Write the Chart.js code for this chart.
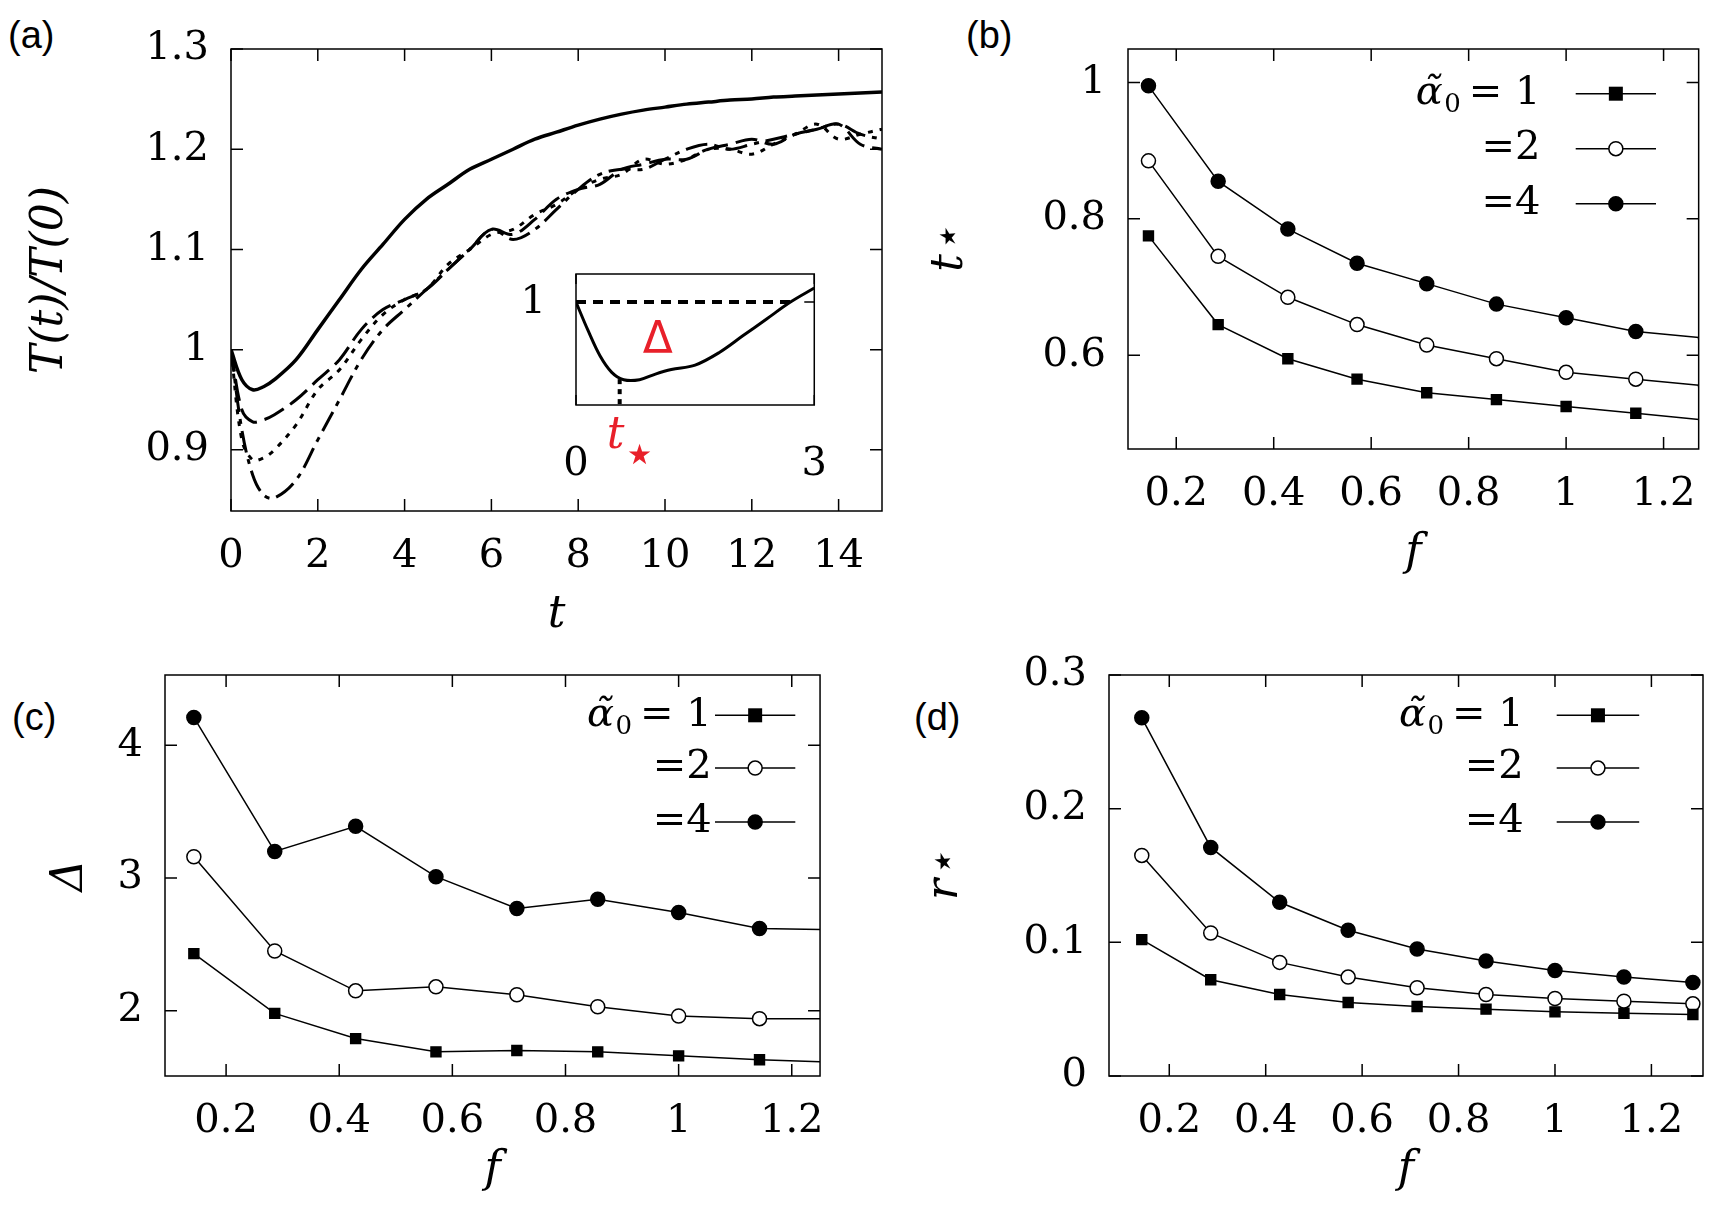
<!DOCTYPE html>
<html><head><meta charset="utf-8">
<script src="https://cdn.jsdelivr.net/npm/chart.js@4"></script>
<style>
body{margin:0;background:#fff;width:1725px;height:1217px;position:relative;overflow:hidden}
canvas{position:absolute}
.lab{position:absolute;font:38px "Liberation Sans",Arial,sans-serif;color:#000}
</style></head><body>
<div class="lab" style="left:8px;top:14px">(a)</div>
<div class="lab" style="left:966px;top:14px">(b)</div>
<div class="lab" style="left:12px;top:696px">(c)</div>
<div class="lab" style="left:914px;top:696px">(d)</div>
<script>
// panel (a) data
var tA = [0,0.25,0.5,0.75,1,1.5,2,2.5,3,3.5,4,4.5,5,5.5,6,6.5,7,7.5,8,8.5,9,9.5,10,10.5,11,11.5,12,12.5,13,13.5,14,14.5,15];
var aSolid = [1.0,0.97,0.96,0.963,0.97,0.99,1.02,1.05,1.08,1.105,1.13,1.15,1.165,1.18,1.19,1.2,1.21,1.217,1.224,1.23,1.235,1.239,1.242,1.245,1.247,1.249,1.25,1.252,1.253,1.254,1.255,1.256,1.257];
var aDash = [1.0,0.94,0.928,0.93,0.935,0.95,0.97,0.99,1.02,1.04,1.05,1.06,1.08,1.10,1.12,1.115,1.13,1.15,1.16,1.165,1.18,1.185,1.19,1.19,1.2,1.205,1.21,1.205,1.215,1.22,1.225,1.205,1.20];
var aDot = [1.0,0.91,0.89,0.892,0.9,0.925,0.96,0.98,1.01,1.035,1.05,1.06,1.085,1.10,1.115,1.12,1.135,1.145,1.16,1.17,1.175,1.19,1.185,1.19,1.2,1.2,1.195,1.205,1.215,1.225,1.21,1.215,1.22];
var aDashDot = [1.0,0.92,0.875,0.855,0.852,0.87,0.91,0.95,0.99,1.02,1.04,1.06,1.08,1.10,1.12,1.11,1.12,1.14,1.16,1.175,1.18,1.18,1.19,1.2,1.205,1.2,1.205,1.21,1.215,1.22,1.225,1.215,1.21];
var tInset = [0,0.15,0.3,0.45,0.6,0.8,1,1.2,1.5,1.8,2.1,2.4,2.7,3];
var inset = [1.0,0.95,0.905,0.875,0.862,0.862,0.872,0.88,0.888,0.91,0.94,0.97,1.0,1.025];
// panels (b)-(d)
var f = [0.143,0.286,0.429,0.571,0.714,0.857,1.0,1.143,1.286];
var tStar1 = [0.775,0.645,0.595,0.565,0.545,0.535,0.525,0.515,0.505];
var tStar2 = [0.885,0.745,0.685,0.645,0.615,0.595,0.575,0.565,0.555];
var tStar4 = [0.995,0.855,0.785,0.735,0.705,0.675,0.655,0.635,0.625];
var delta1 = [2.43,1.98,1.79,1.69,1.70,1.69,1.66,1.63,1.61];
var delta2 = [3.16,2.45,2.15,2.18,2.12,2.03,1.96,1.94,1.94];
var delta4 = [4.21,3.20,3.39,3.01,2.77,2.84,2.74,2.62,2.61];
var rStar1 = [0.102,0.072,0.061,0.055,0.052,0.050,0.048,0.047,0.046];
var rStar2 = [0.165,0.107,0.085,0.074,0.066,0.061,0.058,0.056,0.054];
var rStar4 = [0.268,0.171,0.130,0.109,0.095,0.086,0.079,0.074,0.070];
var fTicks = [0.2,0.4,0.6,0.8,1,1.2];
var fLabels = ['0.2','0.4','0.6','0.8','1','1.2'];

var S = 1.1;
var SERIF = '"DejaVu Serif","Liberation Serif",serif';

function xy(xs, ys) { return xs.map(function (x, i) { return {x: x, y: ys[i]}; }); }

var frame = {
  id: 'frame',
  afterDraw: function (c) {
    var fr = c.canvas.$frame || {};
    var a = c.chartArea, ctx = c.ctx, tl = fr.tick || 12;
    ctx.save();
    ctx.strokeStyle = '#000'; ctx.lineWidth = 1.5;
    ctx.strokeRect(a.left, a.top, a.right - a.left, a.bottom - a.top);
    var xs = c.scales.x, ys = c.scales.y;
    xs.ticks.forEach(function (t) {
      var p = xs.getPixelForValue(t.value);
      ctx.beginPath(); ctx.moveTo(p, a.bottom); ctx.lineTo(p, a.bottom - tl);
      ctx.moveTo(p, a.top); ctx.lineTo(p, a.top + tl); ctx.stroke();
    });
    ys.ticks.forEach(function (t) {
      var p = ys.getPixelForValue(t.value);
      ctx.beginPath(); ctx.moveTo(a.left, p); ctx.lineTo(a.left + tl, p);
      ctx.moveTo(a.right, p); ctx.lineTo(a.right - tl, p); ctx.stroke();
    });
    var lg = fr.legend;
    if (lg) {
      var off = fr.off;
      lg.rows.forEach(function (r) {
        var y = r.y * S - off[1], xt = lg.textRight * S - off[0];
        var x0 = lg.lineX[0] * S - off[0], x1 = lg.lineX[1] * S - off[0];
        ctx.fillStyle = '#000'; ctx.textBaseline = 'middle'; ctx.textAlign = 'right';
        ctx.font = '40px ' + SERIF;
        if (r.alpha) {
          ctx.fillText('= 1', xt, y);
          var w = ctx.measureText('= 1').width;
          ctx.font = '26px ' + SERIF; ctx.fillText('0', xt - w - 8, y + 12);
          ctx.font = 'italic 40px ' + SERIF; ctx.fillText('α\u0303', xt - w - 26, y);
        } else ctx.fillText(r.text, xt, y);
        ctx.lineWidth = 1.5;
        ctx.beginPath(); ctx.moveTo(x0, y); ctx.lineTo(x1, y); ctx.stroke();
        var xm = (x0 + x1) / 2;
        ctx.beginPath();
        if (r.shape === 'rect') { ctx.fillStyle = '#000'; ctx.fillRect(xm - 7, y - 7, 14, 14); }
        else {
          ctx.arc(xm, y, 7, 0, Math.PI * 2);
          ctx.fillStyle = r.open ? '#fff' : '#000'; ctx.fill(); ctx.stroke();
        }
      });
    }
    if (fr.extra) fr.extra(c);
    ctx.restore();
  }
};

function mk(area, L, B, T, R, cfg, fr) {
  var cv = document.createElement('canvas');
  var left = area[0] * S - L, top = area[1] * S - T;
  var w = (area[2] - area[0]) * S + L + R, h = (area[3] - area[1]) * S + T + B;
  cv.width = w; cv.height = h;
  cv.style.left = left + 'px'; cv.style.top = top + 'px';
  document.body.appendChild(cv);
  fr = fr || {};
  fr.off = [left, top];
  cv.$frame = fr;
  cfg.options.responsive = false;
  cfg.options.animation = false;
  cfg.options.devicePixelRatio = 1;
  cfg.options.layout = {padding: {top: T, right: R, left: 0, bottom: 0}};
  cfg.options.plugins = {legend: {display: false}, tooltip: {enabled: false}};
  cfg.options.scales.x.afterFit = function (s) { s.height = B; };
  cfg.options.scales.y.afterFit = function (s) { s.width = L; };
  cfg.plugins = [frame];
  return new Chart(cv, cfg);
}

function axis(min, max, vals, labels, title, pad) {
  return {
    type: 'linear', min: min, max: max,
    afterBuildTicks: function (s) { s.ticks = vals.map(function (v) { return {value: v}; }); },
    ticks: {color: '#000', font: {family: SERIF, size: 40}, padding: pad || 14, maxRotation: 0,
      callback: function (v) { var i = vals.indexOf(v); return i >= 0 ? labels[i] : ''; }},
    grid: {display: false}, border: {display: false},
    title: title ? {display: true, text: title, color: '#000', font: {family: SERIF, size: 44, style: 'italic'}, padding: 4} : {display: false}
  };
}

function line(data, dash, width) {
  return {data: data, borderColor: '#000', borderWidth: width || 3, borderDash: dash || [], pointRadius: 0, tension: 0.35, fill: false};
}

// (a)
mk([210, 28, 802, 465], 211, 135, 20, 20, {
  type: 'line',
  data: {datasets: [
    line(xy(tA, aSolid), [], 3.5),
    line(xy(tA, aDash), [22, 8], 3),
    line(xy(tA, aDot), [5, 7], 3),
    line(xy(tA, aDashDot), [22, 7, 5, 7], 3)
  ]},
  options: {scales: {
    x: axis(0, 15, [0, 2, 4, 6, 8, 10, 12, 14], ['0', '2', '4', '6', '8', '10', '12', '14'], 't'),
    y: axis(0.839, 1.3, [0.9, 1, 1.1, 1.2, 1.3], ['0.9', '1', '1.1', '1.2', '1.3'], 'T(t)/T(0)')
  }}
});

// inset
mk([524, 211, 769, 369], 60, 90, 4, 10, {
  type: 'line',
  data: {datasets: [
    {data: [{x: 0, y: 1}, {x: 2.7, y: 1}], borderColor: '#000', borderWidth: 4, borderDash: [10, 7], pointRadius: 0},
    {data: [{x: 0.55, y: 0.863}, {x: 0.55, y: 0.817}], borderColor: '#000', borderWidth: 4, borderDash: [5, 5], pointRadius: 0},
    line(xy(tInset, inset), [], 3)
  ]},
  options: {scales: {
    x: axis(0, 3, [0, 3], ['0', '3'], null, 28),
    y: axis(0.817, 1.05, [1], ['1'], null, 22)
  }}
}, {tick: 10, extra: function (c) {
  var ctx = c.ctx, xs = c.scales.x, ys = c.scales.y;
  ctx.fillStyle = '#e8202a'; ctx.textAlign = 'center'; ctx.textBaseline = 'middle';
  ctx.font = '44px "DejaVu Sans",sans-serif';
  ctx.fillText('Δ', xs.getPixelForValue(1.03), ys.getPixelForValue(0.93));
  ctx.font = 'italic 44px ' + SERIF;
  ctx.fillText('t', xs.getPixelForValue(0.5), c.chartArea.bottom + 32);
  ctx.font = '28px "DejaVu Sans",sans-serif';
  ctx.fillText('★', xs.getPixelForValue(0.8), c.chartArea.bottom + 52);
}});

function fset(data, shape, open, hideLast) {
  var r = data.map(function (v, i) { return hideLast && i === data.length - 1 ? 0 : 7; });
  return {data: xy(f, data), borderColor: '#000', borderWidth: 1.5, tension: 0,
    pointStyle: shape, pointRadius: r, pointBackgroundColor: open ? '#fff' : '#000', pointBorderColor: '#000', pointBorderWidth: 1.5};
}
function legendRows(textRight, lineX, ys) {
  return {textRight: textRight, lineX: lineX, rows: [
    {alpha: true, shape: 'rect', y: ys[0]},
    {text: '=2', shape: 'circle', open: true, y: ys[1]},
    {text: '=4', shape: 'circle', open: false, y: ys[2]}]};
}

// (b)
mk([1025, 28, 1545, 408], 208, 135, 20, 10, {
  type: 'line',
  data: {datasets: [fset(tStar1, 'rect', false), fset(tStar2, 'circle', true), fset(tStar4, 'circle', false)]},
  options: {scales: {
    x: axis(0.101, 1.272, fTicks, fLabels, 'f'),
    y: axis(0.4626, 1.049, [0.6, 0.8, 1], ['0.6', '0.8', '1'], 't\u22C6')
  }}
}, {legend: legendRows(1400, [1432, 1505], [85, 135, 185])});

// (c)
mk([150, 597, 753, 978], 125, 125, 20, 10, {
  type: 'line',
  data: {datasets: [fset(delta1, 'rect', false, true), fset(delta2, 'circle', true, true), fset(delta4, 'circle', false, true)]},
  options: {scales: {
    x: axis(0.092, 1.25, fTicks, fLabels, 'f'),
    y: axis(1.508, 4.53, [2, 3, 4], ['2', '3', '4'], 'Δ')
  }}
}, {legend: legendRows(647, [650, 723], [650, 698, 747])});

// (d)
mk([1008, 597, 1548, 978], 194, 125, 20, 10, {
  type: 'line',
  data: {datasets: [fset(rStar1, 'rect', false), fset(rStar2, 'circle', true), fset(rStar4, 'circle', false)]},
  options: {scales: {
    x: axis(0.075, 1.307, fTicks, fLabels, 'f'),
    y: axis(0, 0.3, [0, 0.1, 0.2, 0.3], ['0', '0.1', '0.2', '0.3'], 'r\u22C6')
  }}
}, {legend: legendRows(1385, [1415, 1490], [650, 698, 747])});
</script>
</body></html>
